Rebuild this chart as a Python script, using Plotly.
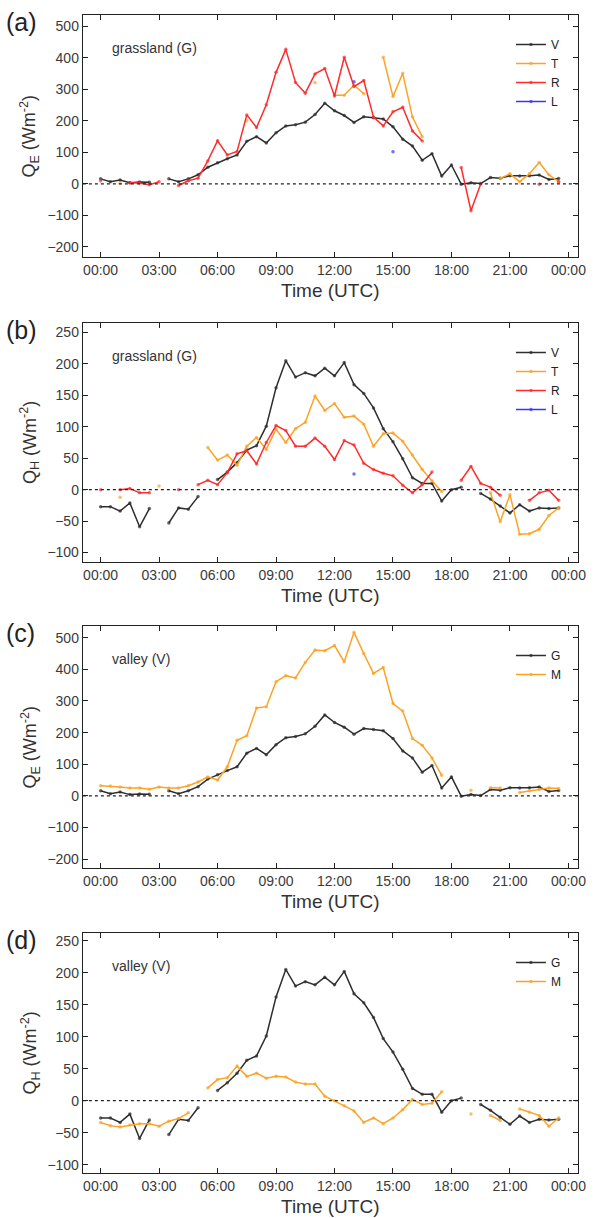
import plotly.graph_objects as go

# half-hourly times (hours UTC)
hours = [h * 0.5 for h in range(48)]
tick_vals = [0, 3, 6, 9, 12, 15, 18, 21, 24]
tick_text = ['00:00', '03:00', '06:00', '09:00', '12:00', '15:00', '18:00', '21:00', '00:00']

N = None
# latent heat flux QE, grassland station (black V in (a), black G in (c))
qe_grass = [16, 7, 12, 4, 6, 5, N, 16, 7, 16, 29, 53, 67, 80, 92, 135, 150, 130, 162, 184,
            188, 196, 220, 256, 232, 217, 195, 213, 210, 206, 181, 142, 120, 75, 96, 25, 60, -1,
            4, 1, 20, 18, 26, 25, 26, 28, 14, 17]
qe_t = [N, N, 2, N, N, N, N, N, N, N, N, N, N, N, N, 200, N, N, N, N,
        N, N, 322, N, 281, 281, 314, 286, N, 402, 277, 351, 212, 150, N, N, N, N,
        N, N, N, 17, 32, 7, 32, 68, 29, 7]
qe_r = [10, N, N, 4, 3, -3, 7, N, -5, 10, 18, 73, 137, 92, 103, 219, 179, 251, 354, 427,
        322, 288, 349, 366, 279, 402, 309, 328, 212, 184, 229, 243, 168, 136, N, N, N, 52,
        -85, 0, N, N, N, N, N, -1, N, 7]
qe_l = [N] * 26 + [324, N, N, N, 102] + [N] * 17
qe_m = [32, 31, 28, 25, 25, 21, 28, 25, 25, 32, 44, 60, 50, 92, 176, 190, 278, 282, 361, 380,
        373, 422, 461, 459, 475, 424, 517, 450, 387, 406, 292, 268, 181, 160, 120, 65, N, N,
        18, N, 26, 25, N, 11, 16, 20, 25, 23]

# sensible heat flux QH
qh_grass = [-27, -27, -34, -21, -59, -30, N, -53, -29, -31, -11, N, 16, 28, 43, 63, 70, 101, 162, 205,
            179, 186, 181, 193, 181, 202, 167, 153, 130, 97, 76, 49, 19, 10, 10, -18, 0, 4,
            N, -6, -15, -26, -37, -24, -34, -29, -30, -29]
qh_t = [N, N, -12, N, N, N, 6, N, N, N, N, 67, 47, 55, 39, 69, 83, 64, 96, 75,
        97, 107, 149, 126, 137, 115, 117, 104, 69, 89, 90, 77, 55, 32, 14, -3, N, N,
        N, N, -5, -51, -8, -71, -70, -63, -41, -29]
qh_r = [0, N, 0, 2, -5, -5, N, N, 0, N, 8, 15, 8, 27, 57, 62, 41, 75, 102, 94,
        69, 69, 82, 69, 48, 78, 71, 42, 32, 26, 22, 7, -5, 8, 28, N, N, 15,
        37, 10, 4, -9, N, N, -17, -5, -1, -17]
qh_l = [N] * 26 + [25] + [N] * 21
qh_m = [-34, -39, -41, -38, -36, -36, -40, -32, -28, -19, N, 20, 33, 36, 54, 38, 43, 35, 38, 37,
        29, 26, 26, 7, 0, -8, -16, -34, -27, -36, -27, -14, 2, -6, -4, 14, N, N,
        -21, N, -23, -31, N, -13, -18, -23, -40, -27]

BLACK = '#2e2e2e'
ORANGE = '#fca326'
RED = '#ff2b2b'
BLUE = '#3535ff'
FONT = 'Liberation Sans, Arial'

W, H = 598, 1218
x_dom = [84 / W, 586 / W]
panels = [
    # (letter, site, top px, bottom px, y range, y ticks, quantity, series)
    ('a', 'grassland (G)', 15, 257, [-232, 536], list(range(-200, 501, 100)), 'E',
     [('V', qe_grass, BLACK), ('T', qe_t, ORANGE), ('R', qe_r, RED), ('L', qe_l, BLUE)]),
    ('b', 'grassland (G)', 323, 562, [-115, 265], list(range(-100, 251, 50)), 'H',
     [('V', qh_grass, BLACK), ('T', qh_t, ORANGE), ('R', qh_r, RED), ('L', qh_l, BLUE)]),
    ('c', 'valley (V)', 626, 868, [-228, 537], list(range(-200, 501, 100)), 'E',
     [('G', qe_grass, BLACK), ('M', qe_m, ORANGE)]),
    ('d', 'valley (V)', 933, 1173, [-113, 262], list(range(-100, 251, 50)), 'H',
     [('G', qh_grass, BLACK), ('M', qh_m, ORANGE)]),
]

fig = go.Figure()
tick_font = dict(family=FONT, size=14, color='#3a3a3a')

for i, (letter, site, top, bot, yr, yt, q, series) in enumerate(panels):
    n = '' if i == 0 else str(i + 1)
    leg = 'legend' + n
    for name, vals, col in series:
        fig.add_trace(go.Scatter(
            x=hours, y=vals, name=name, mode='lines+markers',
            line=dict(color=col, width=1.5),
            marker=dict(color=col, size=3.5, opacity=0.7),
            xaxis='x' + n, yaxis='y' + n, legend=leg, connectgaps=False))
    y_dom = [1 - bot / H, 1 - top / H]
    axis_common = dict(showline=True, linecolor='#222222', linewidth=1.3, mirror='ticks',
                       ticks='inside', ticklen=5, tickcolor='#222222', showgrid=False,
                       zeroline=False, tickfont=tick_font)
    fig.update_layout(**{
        'xaxis' + n: dict(domain=x_dom, range=[-0.91, 24.5], tickvals=tick_vals,
                          ticktext=tick_text, anchor='y' + n, **axis_common),
        'yaxis' + n: dict(domain=y_dom, range=yr, tickvals=yt, anchor='x' + n, **axis_common),
        leg: dict(x=0.866, y=1 - (top + 15) / H, xanchor='left', yanchor='top',
                  bgcolor='rgba(0,0,0,0)', font=dict(family=FONT, size=12, color='#222222'),
                  tracegroupgap=0, itemwidth=30),
    })
    # dotted zero line
    fig.add_shape(type='line', xref='x' + n + ' domain', yref='y' + n,
                  x0=0, x1=1, y0=0, y1=0, line=dict(color='#222222', width=1.2, dash='dot'))
    mid = 1 - (top + bot) / 2 / H
    fig.add_annotation(x=4 / W, y=1 - (top + 7) / H, xref='paper', yref='paper',
                       text=f'({letter})', showarrow=False, xanchor='left', yanchor='middle',
                       font=dict(family=FONT, size=25, color='#222222'))
    fig.add_annotation(x=30 / W, y=mid, xref='paper', yref='paper', textangle=-90,
                       text=f'Q<sub>{q}</sub> (Wm<sup>-2</sup>)', showarrow=False,
                       xanchor='center', yanchor='middle',
                       font=dict(family=FONT, size=18, color='#333333'))
    title_y = min(bot + 33, H - 12)
    fig.add_annotation(x=335 / W, y=1 - title_y / H, xref='paper', yref='paper',
                       text='Time (UTC)', showarrow=False, xanchor='center', yanchor='middle',
                       font=dict(family=FONT, size=19, color='#333333'))
    fig.add_annotation(x=111 / W, y=1 - (top + 33) / H, xref='paper', yref='paper',
                       text=site, showarrow=False, xanchor='left', yanchor='middle',
                       font=dict(family=FONT, size=14, color='#333333'))

fig.update_layout(width=W, height=H, margin=dict(l=0, r=0, t=0, b=0),
                  plot_bgcolor='white', paper_bgcolor='white', showlegend=True)
fig.write_html('out.html', config={'displayModeBar': False},
               post_script="document.body.style.margin='0';document.body.style.overflow='hidden';")
